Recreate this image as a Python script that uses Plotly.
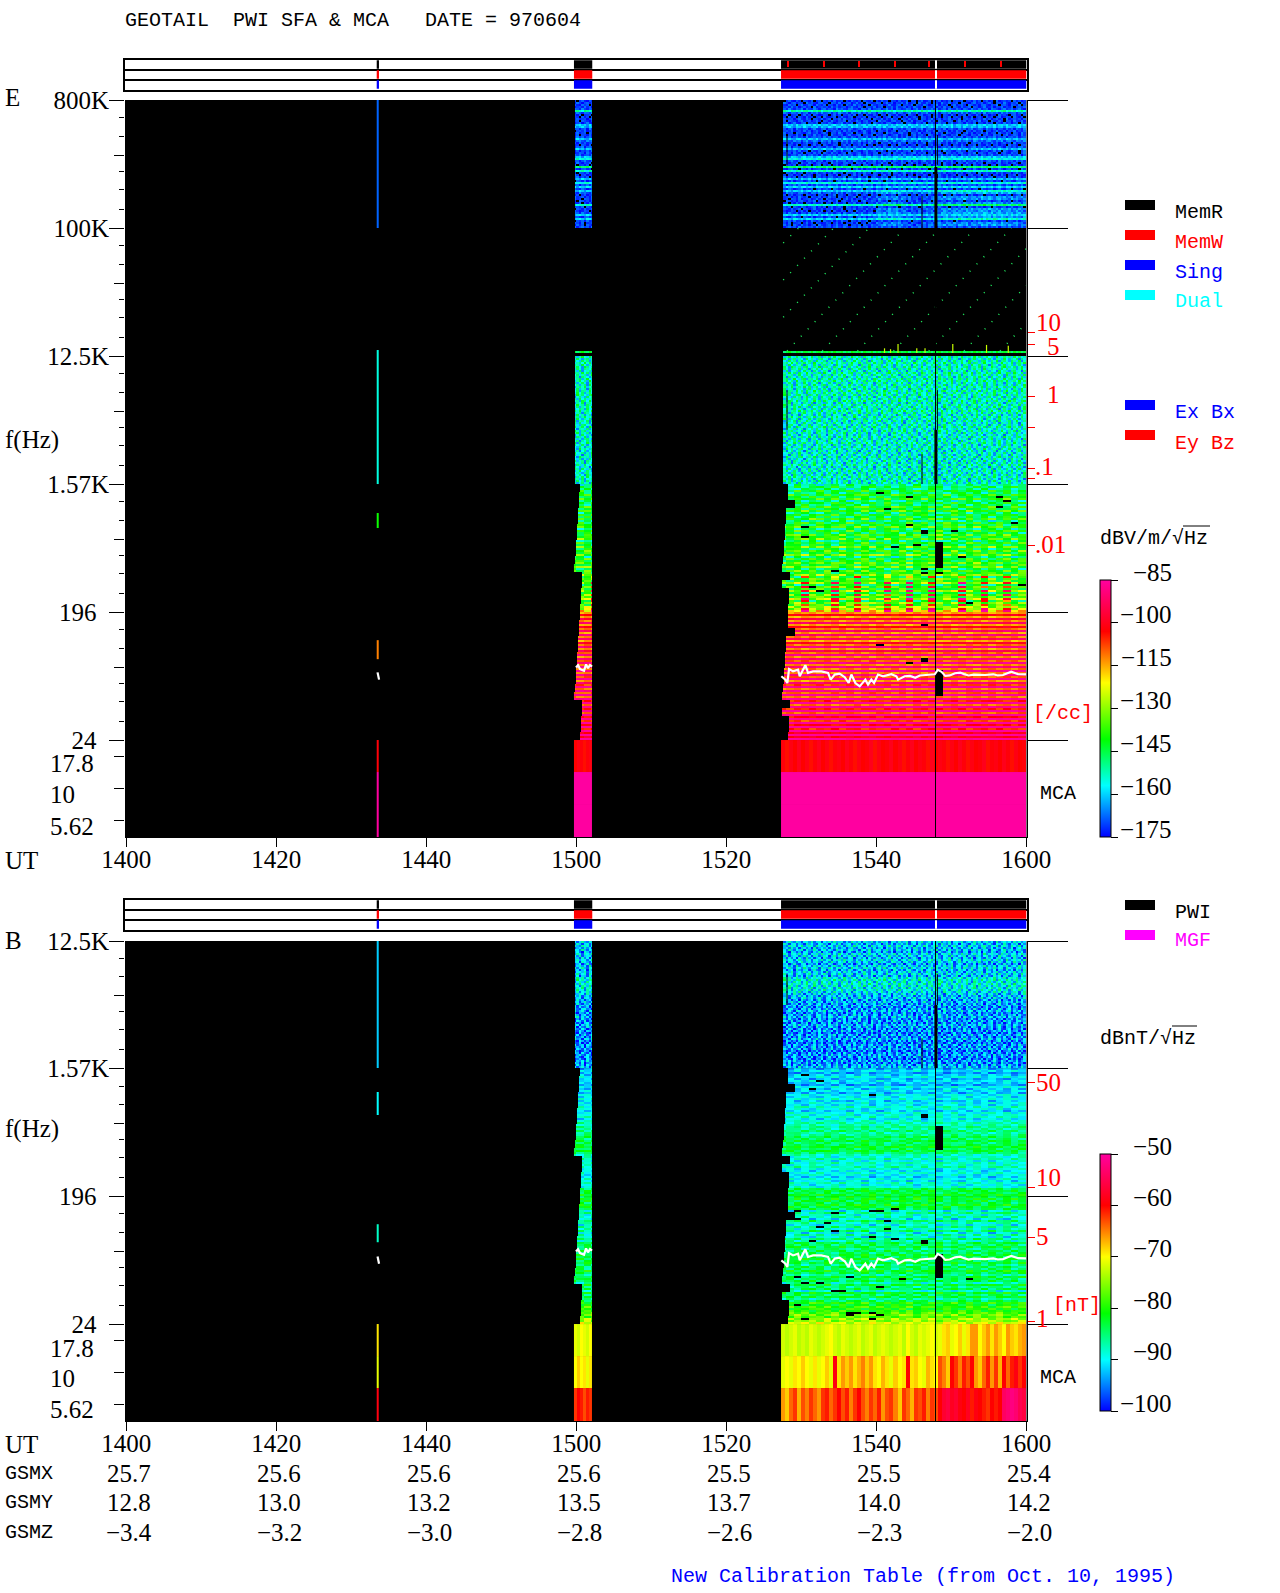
import math
import plotly.graph_objects as go

W, H = 1280, 1593
SERIF = "Liberation Serif"
MONO = "Liberation Mono"

# ---------- time coverage (minutes after 1400 UT) ----------
tick_minutes = [0, 20, 40, 60, 80, 100, 120]
ut_labels = ["1400", "1420", "1440", "1500", "1520", "1540", "1600"]
gsmx = ["25.7", "25.6", "25.6", "25.6", "25.5", "25.5", "25.4"]
gsmy = ["12.8", "13.0", "13.2", "13.5", "13.7", "14.0", "14.2"]
gsmz = ["−3.4", "−3.2", "−3.0", "−2.8", "−2.6", "−2.3", "−2.0"]
seg1 = (33.39, 33.69)
seg2 = (59.69, 62.13)
seg3 = (87.3, 120.03)
memw_marks = [88.1, 92.9, 97.6, 102.4, 107.0, 111.8, 116.5]
status_gap = 107.9

# left edge of the low-frequency sweep, in 16 groups of 4 rows
seg3_edges = [88.2, 88.2, 89.2, 87.96, 87.96, 87.83, 87.83, 87.7, 87.7, 87.56, 87.43, 88.5, 87.43, 88.36, 88.36, 88.2]
seg2_edges = [60.49, 60.36, 60.36, 60.23, 60.23, 60.09, 60.09, 59.96, 59.96, 59.83, 59.69, 60.76, 60.76, 60.63, 60.63, 60.49]

# ---------- spectral rows, dB, top to bottom ----------
E_TOP = [-172,-171,-171,-171,-170,-152,-169,-172,-172,-171,-171,-171,-161,-162,-170,-171,
         -171,-171,-170,-162,-168,-171,-172,-170,-162,-171,-171,-170,-161,-156,-170,-171,
         -172,-148,-171,-154,-171,-172,-171,-162,-171,-156,-170,-160,-171,-161,-169,-172,
         -171,-171,-171,-172,-154,-171,-171,-172,-170,-160,-171,-160,-171,-172,-171,-170]
E_NOISE = [-153,-155,-154,-152,-155,-153,-154,-156,-152,-154,-155,-153,-152,-155,-154,-153,
           -155,-152,-154,-153,-155,-154,-152,-156,-153,-154,-155,-152,-154,-156,-153,-155,
           -154,-156,-155,-153,-156,-154,-155,-157,-154,-156,-155,-153,-156,-155,-154,-157,
           -155,-156,-154,-157,-155,-156,-153,-157,-155,-154,-156,-155,-153,-156,-154,-155]
E_L1 = [-151,-146,-150,-143,-148,-141,-146,-139,-150,-144,-147,-139,-145,-138,-149,-142,
        -146,-138,-151,-141,-144,-136,-149,-140,-146,-137,-143,-135,-150,-141,-145,-134,
        -147,-137,-143,-133,-150,-140,-144,-135,-142,-134,-148,-138,-142,-132,-146,-136,
        -140,-130,-147,-137,-141,-129,-145,-134,-138,-127,-144,-133,-137,-128,-130,-120]
E_L2 = [-114,-102,-115,-96,-113,-92,-115,-100,-112,-91,-114,-90,-112,-92,-115,-98,
        -112,-89,-114,-94,-111,-88,-113,-90,-110,-87,-113,-89,-112,-87,-113,-88,
        -110,-86,-114,-90,-108,-85,-112,-87,-110,-85,-112,-86,-106,-85,-111,-86,
        -106,-84,-110,-85,-104,-84,-108,-85,-104,-84,-106,-84,-100,-84,-100,-84]
B_NOISE = [-92,-93,-91,-93,-92,-94,-91,-92,-93,-91,-92,-94,-92,-91,-93,-92,
           -91,-93,-90,-89,-90,-89,-90,-90,-90,-91,-92,-93,-92,-94,-93,-94,
           -93,-95,-94,-93,-95,-94,-93,-95,-94,-95,-93,-94,-95,-94,-96,-94,
           -95,-93,-95,-96,-94,-95,-94,-96,-95,-94,-95,-96,-94,-95,-94,-93]
B_L1 = [-93,-91,-94,-92,-90,-93,-91,-92,-94,-90,-92,-91,-93,-90,-91,-89,-92,-90,-91,-88,-90,-92,-89,-90,-88,-91,-89,
        -87,-88,-86,-87,-85,-87,-86,-84,-85,-83,-85,-84,-82,-84,-83,-85,-88,-89,-87,-90,-88,-89,-87,-90,
        -91,-89,-90,-92,-89,-91,-88,-90,-89,-84,-83,-84,-82]
B_L2 = [-83,-82,-83,-84,-82,-83,-84,-90,-86,-89,-87,-91,-85,-88,-90,-86,-89,-85,-91,-87,-90,-85,-88,
        -84,-85,-83,-86,-84,-85,-83,-84,-82,-85,-83,-86,-84,-85,-82,-84,-87,-83,-85,-84,
        -88,-83,-86,-84,-89,-82,-85,-83,-87,-84,-80,-82,-79,-81,-80,-78,-76,-78,-74,-75,-72]

# ---------- column deviations, dB ----------
N1 = [3,-7,1,8,-2,-5,6,0,-8,4,2,-3,7,-6,1,5,-9,3,-1,6,-4,8,-2,0,5,-7,2,-5,9,1,-3,4,-8,6,0,-2,7,-6,3,-4,8,-1,2,-9,5,1,-5,6,-3,0,7,-8,4,2,-6,1,9,-4,-2,5,-7,3,0,8,-5,1,-3,6,-9,2,4,-1,7,-6,0,3,-4,8,-2,5,-7,1,6,-3,2,-8,9,-5,0,4,-1,3,-6,7,-2,5,-4,1]
N2 = [-4,6,-1,-8,5,2,-6,9,0,-3,7,-5,1,4,-9,6,2,-2,-7,3,8,-4,0,5,-6,1,7,-3,-8,4,2,-5,9,-1,-6,3,0,7,-9,5,-2,-4,8,1,-7,3,6,-5,2,-1,-8,9,0,4,-3,-6,5,7,-2,1,-9,6,3,-4,8,-7,0,2,5,-6,-1,9,-3,4,-8,7,1,-5,-2,6,3,-9,0,8,-4,5,-7,2,-1,6,-3,9,-6,0,4,-8,7,-2]
N3 = [7,-2,-6,4,0,9,-8,3,5,-1,-7,6,2,-4,8,-9,1,5,-3,-6,7,0,4,-8,2,9,-5,-1,6,3,-7,8,0,-4,5,-9,2,1,-6,7,-3,4,-8,6,0,-5,9,-2,3,-7,1,5,-9,8,-1,-4,2,6,-7,0,9,-3,-5,4,7,-8,1,3,-2,6,-9,5,0,-4,8,2,-7,-1,4,9,-6,3,-3,5,-8,0,7,-5,1,6,-2,-9,8,3,-4,2,-6,5]
L1 = [2,-4,5,-1,3,-6,1,4,-3,6,-2,0,5,-5,2,-1,4,-4,6,-3,1,3,-6,2,-2,5,-1,4,-5,0,3,-3,2]
L2 = [-3,5,-2,4,-6,2,6,-1,3,-4,5,-5,1,4,-2,6,-3,0,-5,3,5,-2,4,-6,1,-1,6,-4,2,3,-5,1,-2]
L3 = [5,1,-4,-2,6,3,-5,2,-1,4,-3,6,-6,0,3,-4,1,5,-2,-5,4,2,-1,6,-3,3,-6,1,5,-4,2,0,4]
# where each row starts reading its deviation list
ROW_START = [0,41,17,73,29,88,5,62,36,94,12,55,80,23,47,68,9,33,76,50,15,91,58,2,39,84,26,70,11,45,97,31,
             64,19,53,86,7,42,78,25,60,93,14,37,71,4,49,82,21,57,90,34,10,66,43,75,28,1,52,87,16,61,38,79]

# burst strength per minute from 1487 on, and where in the column it applies
TOP_BURST = [0,0,0,0,0,0,0,0,0,0,0,0,0,4,5,6,4,2,1,2,3,5,6,5,7,6,6,8,7,7,6,6,5]
TOP_GAIN = [0]*45 + [1,1,0,1,1,0,1,1,0,1,1,1,0,1,1,0,1,1,0]
TOOTH = [0,0,0,34,0,0,0,34,0,0,34,0,0,0,34,0,0,34,0,0,34,0,0,0,34,0,0,34,0,0,34,0,0]
TOOTH_GAIN = [0]*45 + [0,1,0,0,1,0,1,0,1,0,1,0,1,1,0,1,0,1,1]
ZERO33 = [0]*33

# dropped cells (row, minute)
E_L1_GAPS = [(21,90),(26,90),(4,100),(12,101),(31,102),(43,94),(51,91),(53,92),(6,104),(20,104),(30,105),(23,106),(24,106),
             (6,116),(8,117),(11,116),(23,110),(19,118),(36,111),(42,106),(44,106),(44,108),(50,119),(59,112),
             (29,108),(30,108),(31,108),(32,108),(33,108),(34,108),(35,108),(36,108),(37,108),(38,108),(39,108),(40,108),(41,108)]
E_L2_GAPS = [(6,106),(16,100),(25,104),(23,106),(24,106),(29,108),(30,108),(31,108),(32,108),(33,108),(34,108),(35,108),(36,108),(37,108),(38,108),(39,108),(40,108),(41,108)]
B_L1_GAPS = [(3,90),(6,92),(13,99),(10,91),(23,106),(24,106),(29,108),(30,108),(31,108),(32,108),(33,108),(34,108),(35,108),(36,108),(37,108),(38,108),(39,108),(40,108)]
B_L2_GAPS = [(7,89),(8,94),(7,99),(7,100),(6,102),(11,89),(12,101),(13,93),(15,92),(16,101),(17,94),(22,91),(21,102),(20,99),
             (40,89),(43,92),(40,96),(41,103),(43,90),(47,95),(45,100),(47,94),(54,89),(58,96),(59,96),(58,97),(59,100),(61,90),(58,99),(61,99),
             (22,106),(23,106),(41,112),(29,108),(30,108),(31,108),(32,108),(33,108),(34,108),(35,108),(36,108),(37,108),(38,108),(39,108),(40,108)]

# ---------- MCA bands: one value per 4-pixel column of the long interval ----------
E_MCA_178 = [-102,-104,-101,-103,-100,-103,-101,-104,-102,-100,-103,-101,-104,-102,-101,-103,-100,-102,-104,-101,-103,-102,-100,-104,-101,-103,-102,-100,-103,-101,-104,-102,-100,-103,-101,-102,-104,-100,-103,-101,-102,-104,-101,-103,-100,-102,-104,-101,-103,-102,-100,-104,-102,-101,-103,-100,-102,-104,-101,-103,-102]
E_MCA_10 = [-85]*61
E_MCA_562 = [-85]*61
B_MCA_178 = [-72,-73,-72,-71,-73,-72,-73,-71,-72,-73,-72,-71,-70,-72,-73,-71,-72,-73,-72,-71,-73,-72,-71,-73,-72,-71,-72,-73,-72,-71,-73,-70,-72,-73,-71,-72,-71,-70,-72,-71,-69,-68,-71,-70,-68,-71,-69,-66,-66,-70,-68,-66,-69,-66,-68,-70,-66,-68,-69,-67,-66]
B_MCA_10 = [-71,-70,-71,-69,-70,-68,-70,-71,-69,-71,-70,-68,-71,-59,-69,-66,-68,-66,-69,-67,-65,-68,-66,-69,-70,-67,-69,-71,-68,-70,-69,-60,-69,-68,-70,-71,-67,-69,-70,-63,-65,-68,-60,-62,-65,-61,-63,-60,-66,-68,-64,-61,-66,-62,-67,-60,-64,-61,-59,-62,-60]
B_MCA_562 = [-66,-68,-64,-62,-67,-63,-65,-62,-64,-66,-62,-61,-64,-62,-60,-63,-61,-65,-62,-60,-63,-65,-62,-64,-61,-66,-63,-62,-65,-68,-62,-64,-67,-62,-63,-61,-65,-62,-63,-60,-57,-56,-58,-57,-59,-60,-58,-61,-59,-60,-61,-62,-60,-61,-60,-54,-53,-52,-53,-55,-56]
SEG2_MCA = {"E178": [-103,-101,-102,-104,-102,-101], "E10": [-85]*6, "E562": [-85]*6,
            "B178": [-71,-72,-70,-71,-72,-70], "B10": [-70,-68,-70,-69,-71,-69], "B562": [-62,-60,-61,-63,-61,-62]}

# short interval near 1433: (low edge, high edge, dB), in octaves above 24 Hz
SEG1_E = [(-2.273,-0.75,-85),(-0.75,0,-102),(1.9,2.34,-112),(4.97,5.32,-140),(6,9.14,-155),(12,15,-168)]
SEG1_B = [(-2.273,-1.5,-59),(-1.5,-0.75,-71),(-0.75,0,-69),(1.92,2.34,-88),(4.9,5.44,-90),(6,8.98,-92)]

# plasma-line trace (minute, Hz)
trace_t = [33.5,33.7,None,59.96,60.23,60.5,61.03,61.3,61.56,61.83,62.1,None,
           87.34,87.88,88.14,88.37,88.9,89.57,89.79,90.23,90.54,90.9,91.57,92.68,93.57,93.92,94.46,95.12,95.79,96.32,96.68,97.21,97.79,98.54,98.9,99.34,99.7,100.23,100.9,102.0,102.68,102.9,103.79,104.5,105.2,105.8,106.8,107.8,108.2,108.7,109.2,109.8,110.5,111.2,111.7,112.3,113.0,113.4,114.5,115.6,116.2,116.9,117.5,118.0,118.9,119.96]
trace_hz = [72,64,None,78,81,76,74,82,77,81,79,None,
            67.6,64,60.6,76,73.2,75.2,67.6,75.2,80.9,71.4,73.2,73.2,71.4,64,69.5,70.5,66.6,60.6,69.5,60.6,57.4,64,59,64,60.6,69.5,67.6,70,67.6,64,67.6,68,66,68.5,69,69.8,75,72.7,68,68.5,71,71.8,70,68.5,69.5,69.3,69,69.8,68.5,69,71,72.7,70,69.8]

# sweep artefact lines between 100 kHz and 12.5 kHz (minute, octaves)
diag_t0 = [87.6,87.6,87.6,88.1,92.8,97.5,102.3,107.0,111.7,116.5]
diag_y0 = [11.65,10.78,9.91,9.12,9.12,9.12,9.12,9.12,9.12,9.12]
diag_t1 = [89.63,94.33,99.03,103.83,108.53,113.23,118.03,120,120,120]
diag_y1 = [12,12,12,12,12,12,12,11.52,10.65,9.77]
spike_t = [101.1,101.9,102.9,105.4,106.5,110.2,114.7,117.6]
spike_top = [9.18,9.16,9.28,9.18,9.18,9.28,9.26,9.24]

# black data gaps (minute, low octave, high octave, line px)
E_LINES = [(107.9,-2.273,15,1),(107.95,12,13.43,3),(107.95,6,7.27,3),(108.15,13.48,14.18,1),(108.15,7.27,8.2,1),
           (88.1,13.48,14.18,1),(88.1,7.27,8.2,1),(106.1,12,12.75,1),(106.1,6,6.7,1)]
B_LINES = [(107.9,-2.273,8.98,1),(107.95,6,7.48,3),(108.15,7.48,8.2,1),(88.1,7.48,8.2,1),(106.1,6,6.7,1)]

# axes
major_oct_E = [15,12,9,6,3,0]
major_lab_E = ["800K","100K","12.5K","1.57K","196\u00a0\u00a0","24\u00a0\u00a0"]
major_oct_B = [8.98,6,3,0]
major_lab_B = ["12.5K","1.57K","196\u00a0\u00a0","24\u00a0\u00a0"]
minor_fracs = [0.14,0.285,0.56,0.70,0.855]      # of a 3-octave step, from its top
mid_frac = 0.43
mca_oct = [-0.375,-1.125,-1.875]
mca_lab = ["17.8","10","5.62"]
red_E_vals = [9.5625,9.28,8.0625,7.336,6.375,6.14,4.57]
red_B_vals = [5.67,3.19,2.03,0.07]
red_E = [("10",1036,322),("5",1047,346),("1",1047,394),(".1",1035,467),(".01",1035,544)]
red_B = [("50",1036,1082),("10",1036,1177),("5",1036,1236),("1",1036,1318)]
cbar_E = [-85,-100,-115,-130,-145,-160,-175]
cbar_B = [-50,-60,-70,-80,-90,-100]

COLORSCALE = [[0,"#0000ff"],[0.2,"#00ffff"],[0.38,"#00ff00"],[0.6,"#ffff00"],[0.8,"#ff0000"],[1,"#ff00a0"]]

fig = go.Figure()
annotations, shapes = [], []
PX_MIN = 7.5            # pixels per minute, for the column grid
ROW_LISTS = [N1, N2, N3]
LOW_LISTS = [L1, L2, L3]


def dom_x(a, b): return [a / W, b / W]
def dom_y(a, b): return [1 - b / H, 1 - a / H]


def text(s, x, y, color="black", anchor="left", size=25, font=SERIF):
    annotations.append(dict(text=s, x=x / W, y=1 - y / H, xref="paper", yref="paper", xanchor=anchor, yanchor="middle",
                            showarrow=False, font=dict(family=font, size=size, color=color), borderpad=0, borderwidth=0))


def rect(x0, y0, x1, y1, color, layer="above"):
    shapes.append(dict(type="rect", xref="paper", yref="paper", x0=x0 / W, x1=x1 / W, y0=1 - y1 / H, y1=1 - y0 / H,
                       fillcolor=color, line=dict(width=0), layer=layer))


def fine_edges(seg):
    n = int(round((seg[1] - seg[0]) * PX_MIN))
    return [seg[0] + (seg[1] - seg[0]) * k / n for k in range(n + 1)]


def add_section(xa, ya, cax, top, bottom, rows, kind, scale=1.0, holes=False, burst=ZERO33, gain=None, gaps=()):
    n = len(rows)
    gap_set = set(gaps)
    gain = gain or [0] * n
    y_edges = [bottom + (top - bottom) * k / n for k in range(n + 1)]
    for seg, edges, first, noise_left in ((seg2, seg2_edges, 59, 59.83), (seg3, seg3_edges, 87, 87.56)):
        xs = fine_edges(seg)
        z = []
        for r in range(n - 1, -1, -1):
            line = []
            left = noise_left if kind == "noise" else edges[r // 4 % 16]
            for k in range(len(xs) - 1):
                t = 0.5 * (xs[k] + xs[k + 1])
                minute = int(t)
                c = (minute - first + (0 if first == 87 else 4)) % 33
                if t < left or (first == 87 and (r, minute) in gap_set):
                    line.append(None)
                    continue
                if kind == "noise":
                    j = int((t - seg[0]) * PX_MIN / 2.5)
                    d = ROW_LISTS[r % 3][(j + ROW_START[r]) % len(N1)]
                else:
                    d = LOW_LISTS[r % 3][(c + ROW_START[r]) % 33]
                v = rows[r] + scale * d + burst[c] * gain[r]
                if holes and v < -175:
                    line.append(None)
                else:
                    line.append(v)
            z.append(line)
        fig.add_trace(go.Heatmap(x=xs, y=y_edges, z=z, coloraxis=cax, xaxis=xa, yaxis=ya, hoverinfo="skip", zsmooth=False))


def add_mca(xa, ya, cax, bands):
    for low, high, cols3, cols2 in bands:
        n3 = len(cols3)
        xs3 = [seg3[0] + (seg3[1] - seg3[0]) * k / n3 for k in range(n3 + 1)]
        fig.add_trace(go.Heatmap(x=xs3, y=[low, high], z=[cols3], coloraxis=cax, xaxis=xa, yaxis=ya, hoverinfo="skip"))
        n2 = len(cols2)
        xs2 = [seg2[0] + (seg2[1] - seg2[0]) * k / n2 for k in range(n2 + 1)]
        fig.add_trace(go.Heatmap(x=xs2, y=[low, high], z=[cols2], coloraxis=cax, xaxis=xa, yaxis=ya, hoverinfo="skip"))


def add_seg1(xa, ya, cax, bands):
    for low, high, v in bands:
        fig.add_trace(go.Heatmap(x=list(seg1), y=[low, high], z=[[v]], coloraxis=cax, xaxis=xa, yaxis=ya, hoverinfo="skip"))


def add_lines(xa, ya, lines):
    for width in sorted({l[3] for l in lines}):
        xs, ys = [], []
        for t, lo, hi, w in lines:
            if w == width:
                xs += [t, t, None]
                ys += [lo, hi, None]
        fig.add_trace(go.Scatter(x=xs, y=ys, mode="lines", line=dict(color="black", width=width), xaxis=xa, yaxis=ya, hoverinfo="skip", showlegend=False))


def add_trace_line(xa, ya):
    ys = [None if f is None else math.log2(f / 24) for f in trace_hz]
    fig.add_trace(go.Scatter(x=trace_t, y=ys, mode="lines", line=dict(color="white", width=2.2), connectgaps=False,
                             xaxis=xa, yaxis=ya, hoverinfo="skip", showlegend=False))


def add_status(xa, ya, marks):
    rows = [(2.5, "black"), (1.5, "red"), (0.5, "blue")]
    for y, color in rows:
        for seg in (seg1, seg2, seg3):
            fig.add_trace(go.Bar(x=[seg[1] - seg[0]], base=[seg[0]], y=[y], width=0.86, orientation="h",
                                 marker=dict(color=color, line=dict(width=0)), xaxis=xa, yaxis=ya, hoverinfo="skip", showlegend=False))
        fig.add_trace(go.Bar(x=[0.14], base=[status_gap], y=[y], width=0.86, orientation="h",
                             marker=dict(color="white", line=dict(width=0)), xaxis=xa, yaxis=ya, hoverinfo="skip", showlegend=False))
    if marks:
        fig.add_trace(go.Bar(x=[0.14] * len(marks), base=marks, y=[2.55] * len(marks), width=0.6, orientation="h",
                             marker=dict(color="red", line=dict(width=0)), xaxis=xa, yaxis=ya, hoverinfo="skip", showlegend=False))


def dummy(xa, ya):
    fig.add_trace(go.Scatter(x=[None], y=[None], xaxis=xa, yaxis=ya, hoverinfo="skip", showlegend=False))


def minor_positions(majors):
    out, mid = [], []
    for top in majors[:-1]:
        step = 3
        out += [top - step * f for f in minor_fracs]
        mid.append(top - step * mid_frac)
    return out, mid


# ---- E panel ----
add_section("x", "y", "coloraxis", 15, 12, E_TOP, "noise", scale=0.55, holes=True, burst=TOP_BURST, gain=TOP_GAIN)
add_section("x", "y", "coloraxis", 9.117, 9.07, [-145], "noise", scale=0.5)
add_section("x", "y", "coloraxis", 9, 6, E_NOISE, "noise", scale=1.3)
add_section("x", "y", "coloraxis", 6, 3, E_L1, "low", scale=1.6, burst=TOOTH, gain=TOOTH_GAIN, gaps=E_L1_GAPS)
add_section("x", "y", "coloraxis", 3, 0, E_L2, "low", scale=0.5, gaps=E_L2_GAPS)
add_mca("x", "y", "coloraxis", [(-0.75, 0, E_MCA_178, SEG2_MCA["E178"]), (-1.5, -0.75, E_MCA_10, SEG2_MCA["E10"]), (-2.273, -1.5, E_MCA_562, SEG2_MCA["E562"])])
add_seg1("x", "y", "coloraxis", SEG1_E)
dx, dy = [], []
for a, b, c, d in zip(diag_t0, diag_y0, diag_t1, diag_y1):
    dx += [a, c, None]
    dy += [b, d, None]
fig.add_trace(go.Scatter(x=dx, y=dy, mode="lines", line=dict(color="#20f060", width=1.5, dash="1px,9px"), xaxis="x", yaxis="y", hoverinfo="skip", showlegend=False))
sx, sy = [], []
for t, top in zip(spike_t, spike_top):
    sx += [t, t, None]
    sy += [9.07, top, None]
fig.add_trace(go.Scatter(x=sx, y=sy, mode="lines", line=dict(color="#c8ff00", width=1.2), xaxis="x", yaxis="y", hoverinfo="skip", showlegend=False))
add_lines("x", "y", E_LINES)
add_trace_line("x", "y")
add_status("x5", "y5", memw_marks)
for ax in ("y2", "y3", "y4"):
    dummy("x", ax)

# ---- B panel ----
add_section("x6", "y6", "coloraxis2", 8.98, 6, B_NOISE, "noise", scale=0.7)
add_section("x6", "y6", "coloraxis2", 6, 3, B_L1, "low", scale=0.5, gaps=B_L1_GAPS)
add_section("x6", "y6", "coloraxis2", 3, 0, B_L2, "low", scale=0.6, gaps=B_L2_GAPS)
add_mca("x6", "y6", "coloraxis2", [(-0.75, 0, B_MCA_178, SEG2_MCA["B178"]), (-1.5, -0.75, B_MCA_10, SEG2_MCA["B10"]), (-2.273, -1.5, B_MCA_562, SEG2_MCA["B562"])])
add_seg1("x6", "y6", "coloraxis2", SEG1_B)
add_lines("x6", "y6", B_LINES)
add_trace_line("x6", "y6")
add_status("x10", "y10", None)
for ax in ("y7", "y8", "y9"):
    dummy("x6", ax)

# ---- axes ----
xrange_ = [-0.173, 120.03]
tickfont = dict(family=SERIF, size=25, color="black")
X_LEFT, X_RIGHT = 125, 1026.5


def x_axis(anchor):
    return dict(domain=dom_x(X_LEFT, X_RIGHT), range=xrange_, anchor=anchor, tickmode="array", tickvals=tick_minutes, ticktext=ut_labels,
                ticks="outside", ticklen=9, tickcolor="black", tickwidth=1, showgrid=False, zeroline=False, showline=True, linecolor="black", linewidth=1,
                tickfont=tickfont, ticklabelstandoff=-9)


def status_axes(a, b):
    x = dict(domain=dom_x(X_LEFT, X_RIGHT), range=xrange_, anchor=b, showticklabels=False, ticks="", showgrid=False, zeroline=False,
             showline=True, mirror=True, linecolor="black", linewidth=1.5)
    y = dict(range=[0, 3], anchor=a, tickmode="array", tickvals=[1, 2], showticklabels=False, ticks="", showgrid=True, gridcolor="black", gridwidth=1.5,
             zeroline=False, showline=True, mirror=True, linecolor="black", linewidth=1.5)
    return x, y


layout = dict(width=W, height=H, margin=dict(l=0, r=0, t=0, b=0, autoexpand=False), paper_bgcolor="white", plot_bgcolor="white", barmode="overlay", showlegend=False)

layout["xaxis"] = x_axis("y")
layout["xaxis6"] = x_axis("y6")

E_RANGE = [-2.273, 15]
B_RANGE = [-2.273, 8.98]
E_DOM = dom_y(100, 837)
B_DOM = dom_y(941, 1421)
rect(X_LEFT, 100, X_RIGHT, 837, "black", layer="below")
rect(X_LEFT, 941, X_RIGHT, 1421, "black", layer="below")

mE, midE = minor_positions([15, 12, 9, 6, 3, 0])
mB, midB = minor_positions([9, 6, 3, 0])
mB = [v for v in mB if v < 8.98]


def panel_axes(base, xname, rng, dom, majors, labels, minors, mids, red_vals):
    main = dict(domain=dom, range=rng, anchor=xname, tickmode="array", tickvals=majors, ticktext=labels, ticks="outside", ticklen=15, tickcolor="black",
                showgrid=False, zeroline=False, showline=False, tickfont=tickfont, ticklabelstandoff=-5,
                minor=dict(tickmode="array", tickvals=minors, ticks="outside", ticklen=5, tickcolor="black", showgrid=False))
    ovl = "y" if base == 1 else "y%d" % base
    mid = dict(domain=dom, range=rng, overlaying=ovl, side="left", anchor=xname, tickmode="array", tickvals=mids + mca_oct,
               ticktext=[""] * (len(mids) + 3), ticks="outside", ticklen=10, tickcolor="black", showgrid=False, zeroline=False, showline=False)
    black = dict(domain=dom, range=rng, overlaying=ovl, side="right", anchor=xname, tickmode="array", tickvals=majors, ticktext=[""] * len(majors),
                 ticks="outside", ticklen=40, tickcolor="black", showgrid=False, zeroline=False, showline=False)
    red = dict(domain=dom, range=rng, overlaying=ovl, side="right", anchor=xname, tickmode="array", tickvals=red_vals, ticktext=[""] * len(red_vals),
               ticks="outside", ticklen=7, tickcolor="red", showgrid=False, zeroline=False, showline=True, linecolor="black", linewidth=1)
    return main, mid, black, red


a = panel_axes(1, "x", E_RANGE, E_DOM, major_oct_E, major_lab_E, mE, midE, red_E_vals)
layout["yaxis"], layout["yaxis2"], layout["yaxis3"], layout["yaxis4"] = a
b = panel_axes(6, "x6", B_RANGE, B_DOM, major_oct_B, major_lab_B, mB, midB, red_B_vals)
layout["yaxis6"], layout["yaxis7"], layout["yaxis8"], layout["yaxis9"] = b

sx5, sy5 = status_axes("x5", "y5")
sy5["domain"] = dom_y(59.5, 89.5)
layout["xaxis5"], layout["yaxis5"] = sx5, sy5
sx10, sy10 = status_axes("x10", "y10")
sy10["domain"] = dom_y(899.5, 929.5)
layout["xaxis10"], layout["yaxis10"] = sx10, sy10


def cax(vals, top_px, len_px, lo, hi):
    return dict(cmin=lo, cmax=hi, colorscale=COLORSCALE,
                colorbar=dict(x=1100 / W, xanchor="left", y=1 - top_px / H, yanchor="top", yref="paper", xref="paper", len=len_px, lenmode="pixels",
                              thickness=11, thicknessmode="pixels", xpad=0, ypad=0, outlinewidth=1, outlinecolor="black", tickmode="array", tickvals=vals,
                              ticks="outside", ticklen=7, tickcolor="black", showticklabels=False, borderwidth=0))


layout["coloraxis"] = cax(cbar_E, 580, 257, -175, -85)
layout["coloraxis2"] = cax(cbar_B, 1154, 257, -100, -50)

# ---- texts ----
text("GEOTAIL  PWI SFA &amp; MCA   DATE = 970604".replace(" ", "\u00a0"), 125, 20, size=20, font=MONO)
text("E", 5, 98)
text("B", 5, 941)
text("f(Hz)", 5, 440)
text("f(Hz)", 5, 1129)
text("UT", 5, 860)
text("UT", 5, 1444)
for name, y, vals in (("GSMX", 1473, gsmx), ("GSMY", 1502, gsmy), ("GSMZ", 1532, gsmz)):
    text(name, 5, y, size=20, font=MONO)
    for k, v in enumerate(vals):
        text(v, 129.3 + 150 * k, y, anchor="center")
text("New Calibration Table (from Oct. 10, 1995)".replace(" ", "\u00a0"), 1175, 1576, color="blue", anchor="right", size=20, font=MONO)

for s, x, y in red_E:
    text(s, x, y, color="red")
for s, x, y in red_B:
    text(s, x, y, color="red")
text("[/cc]", 1033, 713, color="red", size=20, font=MONO)
text("[nT]", 1053, 1305, color="red", size=20, font=MONO)
text("MCA", 1040, 793, size=20, font=MONO)
text("MCA", 1040, 1377, size=20, font=MONO)
# MCA band labels sit just under their ticks
for s, y in zip(mca_lab, [763, 794, 826]):
    text(s, 50, y)
for s, y in zip(mca_lab, [1348, 1378, 1409]):
    text(s, 50, y)

for name, color, ytxt, yr in (("MemR", "black", 212, 200), ("MemW", "red", 242, 230), ("Sing", "blue", 272, 260), ("Dual", "cyan", 302, 290),
                              ("Ex\u00a0Bx", "blue", 412, 400), ("Ey\u00a0Bz", "red", 443, 430), ("PWI", "black", 912, 900), ("MGF", "magenta", 941, 930)):
    rect(1125, yr, 1155, yr + 10, color)
    text(name, 1175, ytxt, color=color, size=20, font=MONO)

text("dBV/m/√Hz", 1100, 538, size=20, font=MONO)
text("dBnT/√Hz", 1100, 1038, size=20, font=MONO)
shapes.append(dict(type="line", xref="paper", yref="paper", x0=1183 / W, x1=1210 / W, y0=1 - 526 / H, y1=1 - 526 / H, line=dict(color="black", width=1)))
shapes.append(dict(type="line", xref="paper", yref="paper", x0=1172 / W, x1=1197 / W, y0=1 - 1026 / H, y1=1 - 1026 / H, line=dict(color="black", width=1)))

for v in cbar_E:
    text(str(v).replace("-", "−"), 1172, 580 + (-85 - v) * 257 / 90 - 8, anchor="right")
for v in cbar_B:
    text(str(v).replace("-", "−"), 1172, 1154 + (-50 - v) * 257 / 50 - 8, anchor="right")

layout["annotations"] = annotations
layout["shapes"] = shapes
fig.update_layout(**layout)
fig.write_html("out.html", config={"displayModeBar": False}, post_script="document.body.style.margin='0';")
